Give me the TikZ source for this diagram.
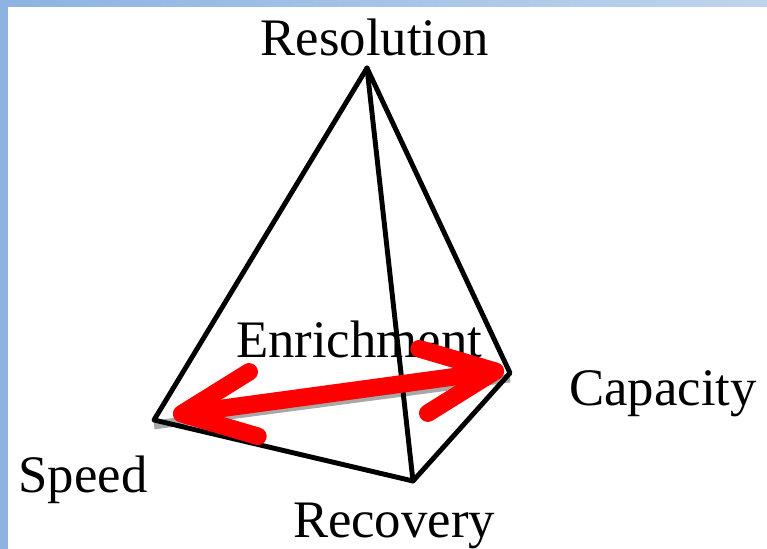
\documentclass[tikz,border=0pt]{standalone}
\usepackage{fontspec}
\setmainfont{Liberation Serif}
\usetikzlibrary{arrows.meta}
\definecolor{frameblue}{HTML}{8DB3E2}
\definecolor{framelight}{HTML}{BFD4EC}
\definecolor{arrowred}{HTML}{FF0000}
\definecolor{backgrey}{HTML}{A8A8A8}

\begin{document}
\begin{tikzpicture}[x=0.2mm, y=-0.2mm,
    every node/.style={font=\fontsize{30}{34}\selectfont, inner sep=0pt},
    lab/.style={anchor=base},
    edge/.style={black, line width=2.8pt, line cap=round, line join=round},
    backedge/.style={backgrey, line width=5pt},
    swing/.style={arrowred, line width=10pt, line cap=round,
        {Straight Barb[length=1.45cm, width=1.3cm, line width=10pt, round]}-{Straight Barb[length=1.45cm, width=1.3cm, line width=10pt, round]}},
]
\useasboundingbox (0,0) rectangle (767,549);
\fill[white] (0,0) rectangle (767,549);

% frame
\shade[left color=frameblue, right color=framelight] (0,0) rectangle (767,6);
\fill[frameblue] (0,0) rectangle (8,549);

% corners of the pyramid
\coordinate (top) at (367,68);
\coordinate (spd) at (154,420);
\coordinate (rec) at (413,481);
\coordinate (cap) at (510,373);

% labels
\node[lab] (resolution) at (375,55) {Resolution};
\node[lab] (enrichment) at (359,357) {Enrichment};
\node[lab] (capacity) at (663,405) {Capacity};
\node[lab] (speed) at (83,492) {Speed};
\node[lab] (recovery) at (394,537) {Recovery};

% edges
\draw[backedge] ([yshift=-1mm]spd) -- ([yshift=-1mm]cap);
\draw[edge] (spd) -- (top) -- (cap) -- (rec) -- cycle;
\draw[edge] (top) -- (rec);

% trade-off arrow
\coordinate (la) at (173,415);
\coordinate (ra) at (504,370);
\draw[swing] (la) -- (ra);
\end{tikzpicture}
\end{document}
